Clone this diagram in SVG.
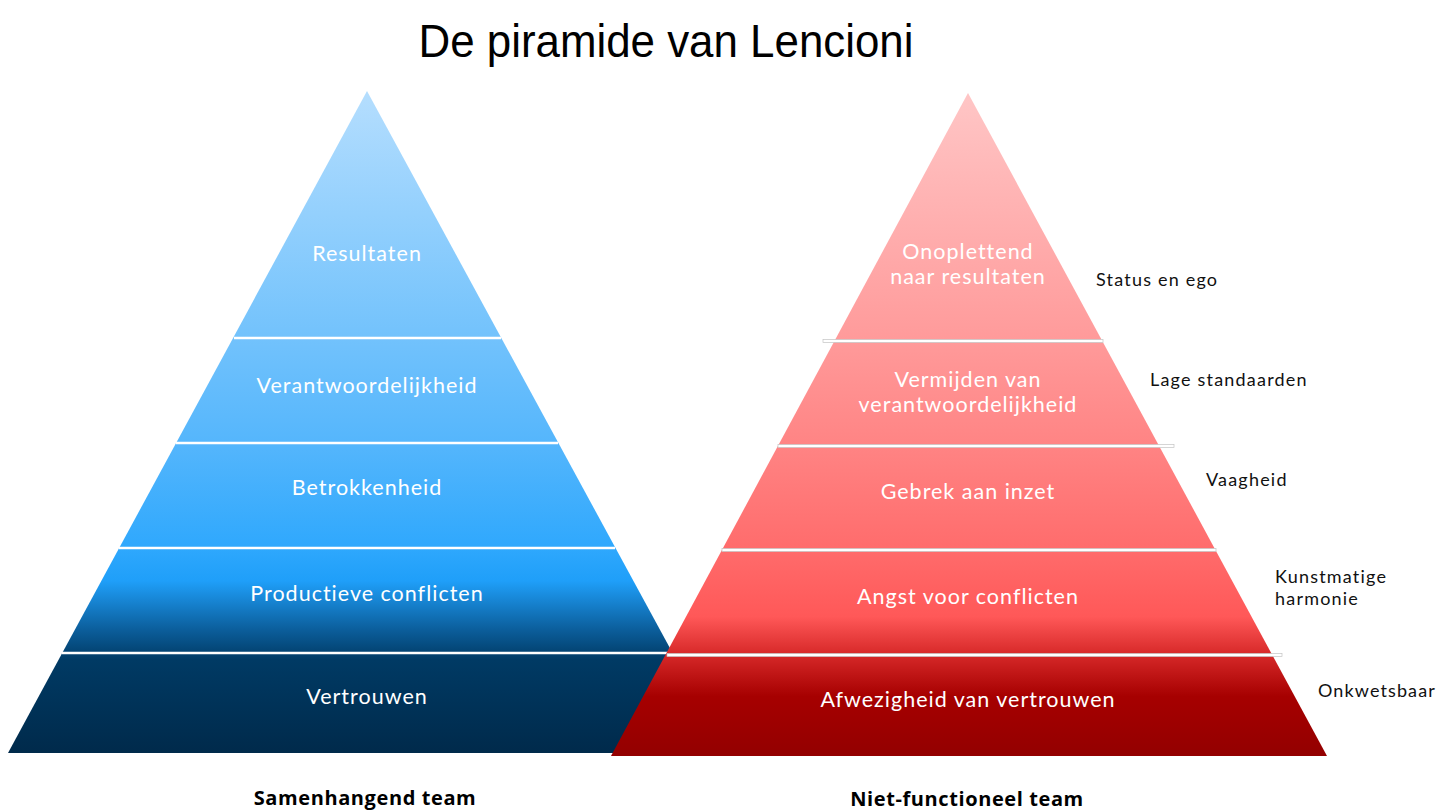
<svg xmlns="http://www.w3.org/2000/svg" width="1437" height="810" viewBox="0 0 1437 810">
  <defs>
    <linearGradient id="gBlue" gradientUnits="userSpaceOnUse" x1="0" y1="91" x2="0" y2="753">
      <stop offset="0" stop-color="#b5defe"/>
      <stop offset="0.373" stop-color="#72c2fc"/>
      <stop offset="0.53" stop-color="#55b6fc"/>
      <stop offset="0.69" stop-color="#2fa8fd"/>
      <stop offset="0.74" stop-color="#1f9ff9"/>
      <stop offset="0.815" stop-color="#0b5d9a"/>
      <stop offset="0.86" stop-color="#003a64"/>
      <stop offset="1" stop-color="#002a4b"/>
    </linearGradient>
    <linearGradient id="gRed" gradientUnits="userSpaceOnUse" x1="0" y1="93" x2="0" y2="756">
      <stop offset="0" stop-color="#ffc6c6"/>
      <stop offset="0.374" stop-color="#ff9a9a"/>
      <stop offset="0.53" stop-color="#ff8484"/>
      <stop offset="0.687" stop-color="#ff6c6c"/>
      <stop offset="0.79" stop-color="#ff5858"/>
      <stop offset="0.845" stop-color="#d82a2a"/>
      <stop offset="0.91" stop-color="#a60000"/>
      <stop offset="1" stop-color="#930000"/>
    </linearGradient>
    <style>
      .lvl { font-family: Lato, "Open Sans", sans-serif; font-weight: 400; font-size: 21.5px; letter-spacing: 1px; fill: #ffffff; text-anchor: middle; }
      .side { font-family: Lato, "Open Sans", sans-serif; font-weight: 400; font-size: 18px; letter-spacing: 1.2px; fill: #111111; }
      .foot { font-family: "Open Sans", "Liberation Sans", sans-serif; font-weight: 700; font-size: 20px; letter-spacing: 0.6px; fill: #000000; text-anchor: middle; }
      .title { font-family: "Liberation Sans", sans-serif; font-weight: 300; font-size: 46px; fill: #000000; text-anchor: middle; }
      .div { stroke: #ffffff; stroke-width: 2.5; }
      .divx { fill: #ffffff; stroke: #c4c4c4; stroke-width: 0.7; }
    </style>
  </defs>

  <rect x="0" y="0" width="1437" height="810" fill="#ffffff"/>

  <g id="title">
    <text class="title" x="666" y="57" textLength="495" lengthAdjust="spacingAndGlyphs">De piramide van Lencioni</text>
  </g>

  <g id="pyramid-left">
    <polygon points="367,91 727,753 8,753" fill="url(#gBlue)"/>
    <g id="left-dividers">
      <line class="div" x1="234" y1="338" x2="501" y2="338"/>
      <line class="div" x1="176" y1="443" x2="558" y2="443"/>
      <line class="div" x1="119" y1="548" x2="615" y2="548"/>
      <line class="div" x1="62" y1="653" x2="672" y2="653"/>
    </g>
    <g id="l-resultaten"><text class="lvl" x="367" y="261">Resultaten</text></g>
    <g id="l-verantwoordelijkheid"><text class="lvl" x="367" y="393">Verantwoordelijkheid</text></g>
    <g id="l-betrokkenheid"><text class="lvl" x="367" y="495">Betrokkenheid</text></g>
    <g id="l-productieve"><text class="lvl" x="367" y="601">Productieve conflicten</text></g>
    <g id="l-vertrouwen"><text class="lvl" x="367" y="704">Vertrouwen</text></g>
  </g>

  <g id="pyramid-right">
    <polygon points="968,93 1327,756 611,756" fill="url(#gRed)"/>
    <g id="right-dividers">
      <rect class="divx" x="823" y="339.5" width="280" height="3"/>
      <rect class="divx" x="778" y="444.5" width="396" height="3"/>
      <rect class="divx" x="722" y="548.5" width="494" height="3"/>
      <rect class="divx" x="667" y="653.5" width="615" height="3"/>
    </g>
    <g id="r-onoplettend"><text class="lvl" x="968" y="259">Onoplettend</text><text class="lvl" x="968" y="284">naar resultaten</text></g>
    <g id="r-vermijden"><text class="lvl" x="968" y="387">Vermijden van</text><text class="lvl" x="968" y="412">verantwoordelijkheid</text></g>
    <g id="r-gebrek"><text class="lvl" x="968" y="499">Gebrek aan inzet</text></g>
    <g id="r-angst"><text class="lvl" x="968" y="604">Angst voor conflicten</text></g>
    <g id="r-afwezigheid"><text class="lvl" x="968" y="707">Afwezigheid van vertrouwen</text></g>
  </g>

  <g id="side-labels">
    <text class="side" x="1096" y="286">Status en ego</text>
    <text class="side" x="1150" y="386">Lage standaarden</text>
    <text class="side" x="1206" y="486">Vaagheid</text>
    <text class="side" x="1275" y="583">Kunstmatige</text>
    <text class="side" x="1275" y="605">harmonie</text>
    <text class="side" x="1318" y="697" textLength="118" lengthAdjust="spacing">Onkwetsbaar</text>
  </g>

  <g id="footers">
    <text class="foot" x="365" y="805">Samenhangend team</text>
    <text class="foot" x="967" y="806">Niet-functioneel team</text>
  </g>
</svg>
